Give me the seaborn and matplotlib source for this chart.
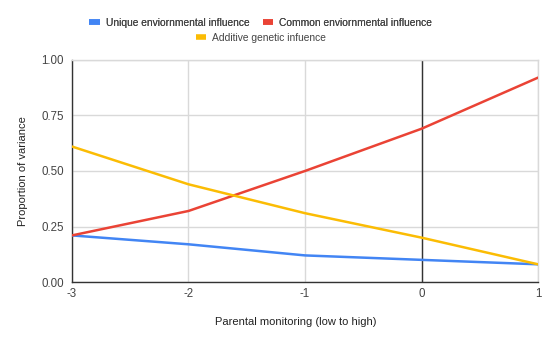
import matplotlib
matplotlib.use("Agg")
import matplotlib.pyplot as plt
from matplotlib.lines import Line2D
import seaborn as sns
import pandas as pd

# Parental monitoring levels and variance components
monitoring = [-3, -2, -1, 0, 1]
unique_env = [0.21, 0.17, 0.12, 0.10, 0.08]
common_env = [0.21, 0.32, 0.50, 0.69, 0.92]
additive_gen = [0.61, 0.44, 0.31, 0.20, 0.08]

series_names = ["Unique enviornmental influence",
                "Common enviornmental influence",
                "Additive genetic infuence"]
series_values = [unique_env, common_env, additive_gen]
colors = ["#4285F4", "#EA4335", "#FBBC04"]

y_ticks = [0.0, 0.25, 0.5, 0.75, 1.0]
y_tick_labels = ["0.00", "0.25", "0.50", "0.75", "1.00"]
x_ticks = [-3, -2, -1, 0, 1]

rows = []
for name, vals in zip(series_names, series_values):
    for x, v in zip(monitoring, vals):
        rows.append({"monitoring": x, "value": v, "series": name})
df = pd.DataFrame(rows)

sns.set_theme(style="white")
plt.rcParams["font.family"] = ["Liberation Sans", "DejaVu Sans"]

fig = plt.figure(figsize=(5.55, 3.44), dpi=100)
ax = fig.add_axes([0.1297, 0.180, 0.8397, 0.646])

sns.lineplot(data=df, x="monitoring", y="value", hue="series",
             hue_order=series_names, palette=colors, linewidth=1.8,
             ax=ax, legend=False, zorder=3)

ax.set_xlim(-3, 1)
ax.set_ylim(0, 1)
ax.set_xticks(x_ticks)
ax.set_xticklabels([str(t) for t in x_ticks])
ax.set_yticks(y_ticks)
ax.set_yticklabels(y_tick_labels)
ax.tick_params(axis="both", length=0, labelsize=8.3, labelcolor="#444444")
ax.tick_params(axis="x", pad=4)
ax.tick_params(axis="y", pad=6)

ax.grid(True, color="#d9d9d9", linewidth=1)
ax.axvline(0, color="#333333", linewidth=1, zorder=2)

for side in ["top", "right"]:
    ax.spines[side].set_color("#d9d9d9")
    ax.spines[side].set_linewidth(1)
for side in ["left", "bottom"]:
    ax.spines[side].set_color("#333333")
    ax.spines[side].set_linewidth(1)

ax.set_xlabel("Parental monitoring (low to high)", fontsize=8,
              color="#222222")
ax.xaxis.set_label_coords(0.48, -0.155)
ax.set_ylabel("Proportion of variance", fontsize=8, color="#222222")
ax.yaxis.set_label_coords(-0.095, 0.5)

handles = [Line2D([0], [0], color=c, linewidth=4, solid_capstyle="butt")
           for c in colors]
leg1 = fig.legend(handles[:2], series_names[:2], loc="center",
                  bbox_to_anchor=(0.47, 0.934), ncol=2, frameon=False,
                  fontsize=7.4, handlelength=1.0, handletextpad=0.6,
                  columnspacing=1.3, labelcolor="#444444")
leg2 = fig.legend(handles[2:], series_names[2:], loc="center",
                  bbox_to_anchor=(0.47, 0.89), ncol=1, frameon=False,
                  fontsize=7.4, handlelength=1.0, handletextpad=0.6,
                  labelcolor="#444444")
fig.add_artist(leg1)

fig.savefig("out.png", dpi=100)
